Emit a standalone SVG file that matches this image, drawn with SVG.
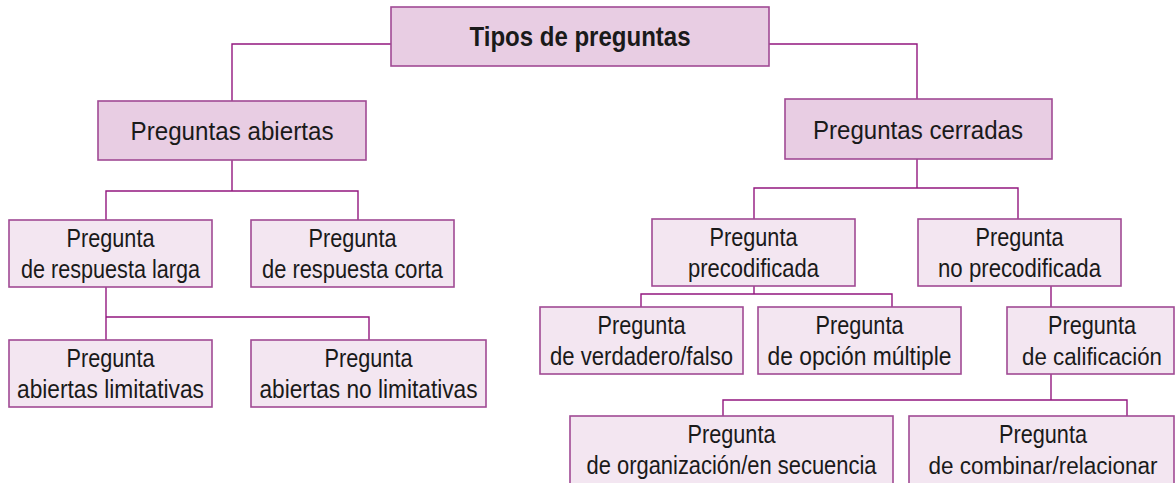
<svg xmlns="http://www.w3.org/2000/svg" width="1176" height="483" viewBox="0 0 1176 483">
<style>
.b1{fill:#e8cde3;stroke:#a04a94;stroke-width:1.6}
.b2{fill:#f3e6f1;stroke:#a04a94;stroke-width:1.6}
.t{font-family:"Liberation Sans",Arial,sans-serif;font-size:25px;fill:#1a1a1a;text-anchor:middle}
.t1{font-size:26px}
.ts{font-size:23px}
.tb{font-weight:bold;font-size:27px}
.c{fill:none;stroke:#93177f;stroke-width:1.4}
</style>
<rect width="1176" height="483" fill="#ffffff"/>
<g id="connectors">
<polyline class="c" points="391,44 232,44 232,101"/>
<polyline class="c" points="769,44 917,44 917,99"/>
<polyline class="c" points="232,160 232,191"/>
<polyline class="c" points="106,220 106,191 358,191 358,220"/>
<polyline class="c" points="106,287 106,340"/>
<polyline class="c" points="106,317 369,317 369,340"/>
<polyline class="c" points="917,159 917,188"/>
<polyline class="c" points="754,219 754,188 1018,188 1018,219"/>
<polyline class="c" points="754,286 754,294"/>
<polyline class="c" points="641,307 641,294 892,294 892,307"/>
<polyline class="c" points="1051,286 1051,307"/>
<polyline class="c" points="1051,374 1051,400"/>
<polyline class="c" points="723,416 723,400 1127,400 1127,416"/>
</g>
<g id="root">
<rect class="b1" x="391" y="7" width="378" height="59"/>
<text class="t tb" x="580" y="46" textLength="221" lengthAdjust="spacingAndGlyphs">Tipos de preguntas</text>
</g>
<g id="abiertas">
<rect class="b1" x="98" y="101" width="268" height="59"/>
<text class="t t1" x="232" y="140" textLength="203" lengthAdjust="spacingAndGlyphs">Preguntas abiertas</text>
</g>
<g id="cerradas">
<rect class="b1" x="785" y="99" width="267" height="60"/>
<text class="t t1" x="918" y="139" textLength="210" lengthAdjust="spacingAndGlyphs">Preguntas cerradas</text>
</g>
<g id="larga">
<rect class="b2" x="9" y="220" width="203" height="67"/>
<text class="t" x="110.5" y="247" textLength="88" lengthAdjust="spacingAndGlyphs">Pregunta</text>
<text class="t" x="110.5" y="278" textLength="179" lengthAdjust="spacingAndGlyphs">de respuesta larga</text>
</g>
<g id="corta">
<rect class="b2" x="251" y="220" width="203" height="67"/>
<text class="t" x="352.5" y="247" textLength="88" lengthAdjust="spacingAndGlyphs">Pregunta</text>
<text class="t" x="352.5" y="278" textLength="181" lengthAdjust="spacingAndGlyphs">de respuesta corta</text>
</g>
<g id="limitativas">
<rect class="b2" x="9" y="340" width="203" height="67"/>
<text class="t" x="110.5" y="367" textLength="88" lengthAdjust="spacingAndGlyphs">Pregunta</text>
<text class="t" x="110.5" y="398" textLength="187" lengthAdjust="spacingAndGlyphs">abiertas limitativas</text>
</g>
<g id="nolimitativas">
<rect class="b2" x="251" y="340" width="235" height="67"/>
<text class="t" x="368.5" y="367" textLength="88" lengthAdjust="spacingAndGlyphs">Pregunta</text>
<text class="t" x="368.5" y="398" textLength="218" lengthAdjust="spacingAndGlyphs">abiertas no limitativas</text>
</g>
<g id="precodificada">
<rect class="b2" x="652" y="219" width="203" height="67"/>
<text class="t" x="753.5" y="246" textLength="88" lengthAdjust="spacingAndGlyphs">Pregunta</text>
<text class="t" x="753.5" y="277" textLength="131" lengthAdjust="spacingAndGlyphs">precodificada</text>
</g>
<g id="noprecodificada">
<rect class="b2" x="918" y="219" width="203" height="67"/>
<text class="t" x="1019.5" y="246" textLength="88" lengthAdjust="spacingAndGlyphs">Pregunta</text>
<text class="t" x="1019.5" y="277" textLength="163" lengthAdjust="spacingAndGlyphs">no precodificada</text>
</g>
<g id="verdadero">
<rect class="b2" x="540" y="307" width="203" height="67"/>
<text class="t" x="641.5" y="334" textLength="88" lengthAdjust="spacingAndGlyphs">Pregunta</text>
<text class="t" x="641.5" y="365" textLength="183" lengthAdjust="spacingAndGlyphs">de verdadero/falso</text>
</g>
<g id="opcion">
<rect class="b2" x="758" y="307" width="203" height="67"/>
<text class="t" x="859.5" y="334" textLength="88" lengthAdjust="spacingAndGlyphs">Pregunta</text>
<text class="t" x="859.5" y="365" textLength="184" lengthAdjust="spacingAndGlyphs">de opción múltiple</text>
</g>
<g id="calificacion">
<rect class="b2" x="1007" y="307" width="167" height="67"/>
<text class="t" x="1092" y="334" textLength="88" lengthAdjust="spacingAndGlyphs">Pregunta</text>
<text class="t ts" x="1092" y="365" textLength="140" lengthAdjust="spacingAndGlyphs">de calificación</text>
</g>
<g id="organizacion">
<rect class="b2" x="570" y="416" width="323" height="72"/>
<text class="t" x="731.5" y="443" textLength="88" lengthAdjust="spacingAndGlyphs">Pregunta</text>
<text class="t" x="731.5" y="474" textLength="290" lengthAdjust="spacingAndGlyphs">de organización/en secuencia</text>
</g>
<g id="combinar">
<rect class="b2" x="909" y="416" width="265" height="72"/>
<text class="t" x="1043" y="443" textLength="88" lengthAdjust="spacingAndGlyphs">Pregunta</text>
<text class="t ts" x="1043" y="474" textLength="229" lengthAdjust="spacingAndGlyphs">de combinar/relacionar</text>
</g>
</svg>
